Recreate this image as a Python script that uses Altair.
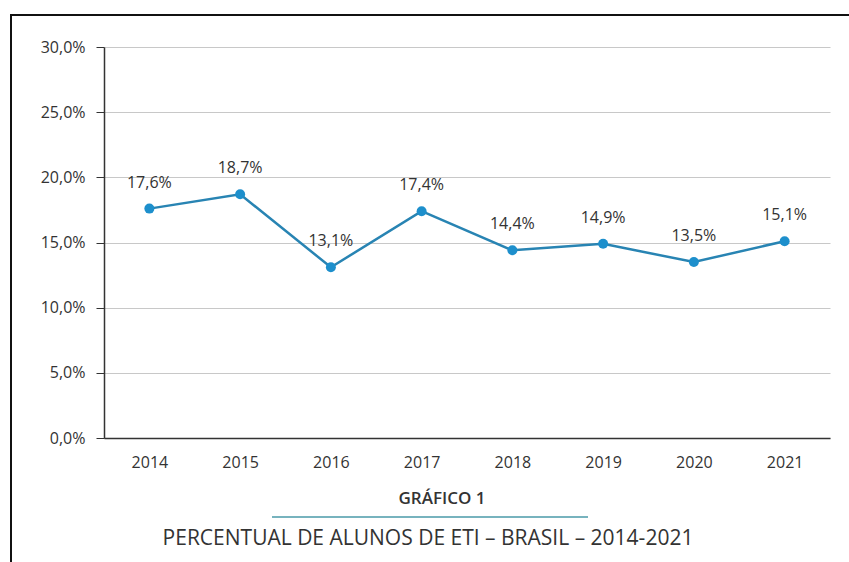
import altair as alt
import pandas as pd

years = [2014, 2015, 2016, 2017, 2018, 2019, 2020, 2021]
values = [17.6, 18.7, 13.1, 17.4, 14.4, 14.9, 13.5, 15.1]
y_ticks = [0, 5, 10, 15, 20, 25, 30]
title_text = "GRÁFICO 1"
subtitle_text = "PERCENTUAL DE ALUNOS DE ETI – BRASIL – 2014-2021"

df = pd.DataFrame({"ano": years, "pct": values})

FONT = "Open Sans"
W, H = 726, 391

x = alt.X("ano:Q", scale=alt.Scale(domain=[2013.5, 2021.5], nice=False, zero=False),
          axis=alt.Axis(values=years, format="d", title=None, grid=False, ticks=False,
                        domain=True, domainColor="#333333", domainWidth=1.5,
                        labelPadding=16, labelFontSize=16, labelFontWeight=500,
                        labelColor="#333333", labelFont=FONT))
y = alt.Y("pct:Q", scale=alt.Scale(domain=[0, 30], nice=False),
          axis=alt.Axis(values=y_ticks, title=None, grid=True, gridColor="#c8c8c8", gridWidth=1.2,
                        domainColor="#333333", domainWidth=1.5, tickColor="#333333", tickSize=8,
                        labelPadding=11, labelFontSize=16, labelFontWeight=500,
                        labelColor="#333333", labelFont=FONT,
                        labelExpr="replace(format(datum.value, '.1f'), '.', ',') + '%'"))

base = alt.Chart(df)
line = base.mark_line(color="#2884b3", strokeWidth=2.5).encode(x=x, y=y)
pts = base.mark_point(filled=True, size=100, color="#1d8fcc", opacity=1).encode(x=x, y=y)
labels = base.transform_calculate(
    lab="replace(format(datum.pct, '.1f'), '.', ',') + '%'"
).mark_text(dy=-26, fontSize=16, fontWeight=500, color="#333333", font=FONT).encode(
    x=x, y=y, text="lab:N")

deco_src = alt.Chart(pd.DataFrame({"a": [0]}))
t1 = deco_src.mark_text(fontSize=17, fontWeight=600, color="#333333", font=FONT).encode(
    x=alt.value(338), y=alt.value(61 + H), text=alt.value(title_text))
rule = deco_src.mark_rule(color="#4a9aa8", strokeWidth=1.5).encode(
    x=alt.value(168), x2=alt.value(484), y=alt.value(79 + H))
t2 = deco_src.mark_text(fontSize=21, fontWeight=500, color="#333333", font=FONT).encode(
    x=alt.value(324), y=alt.value(101 + H), text=alt.value(subtitle_text))
frame = deco_src.mark_rect(fill=None, stroke="#111111", strokeWidth=2).encode(
    x=alt.value(-93), y=alt.value(-32), x2=alt.value(800), y2=alt.value(600))

chart = alt.layer(frame, line, pts, labels, t1, rule, t2).properties(
    width=W, height=H,
    autosize=alt.AutoSizeParams(type="none"),
    padding={"left": 104, "top": 47, "right": 19, "bottom": 124},
    background="white",
).configure_view(stroke=None)

chart.save("out.html", embed_options={"renderer": "svg", "actions": False})
